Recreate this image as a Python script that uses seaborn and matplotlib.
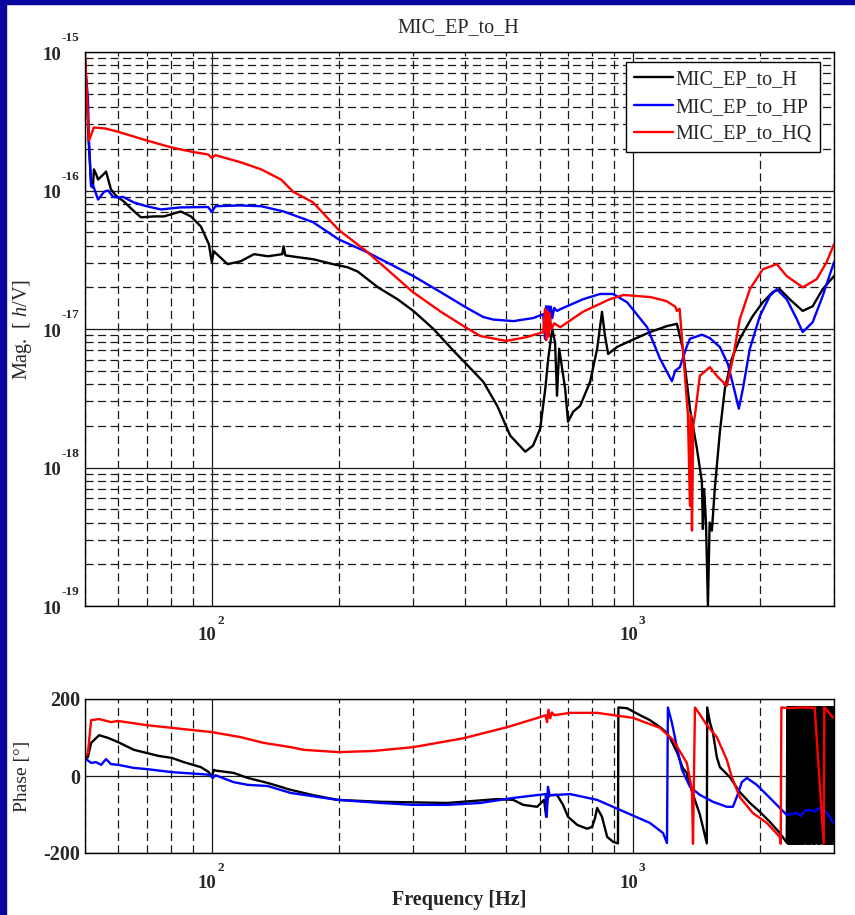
import matplotlib
matplotlib.use("Agg")

import matplotlib.pyplot as plt
import seaborn as sns
from matplotlib.patches import Rectangle
from matplotlib.ticker import LogLocator, NullFormatter

# ---- magnitude data [h/V] vs frequency [Hz] ----
h_mag_freq = [50, 50.5, 51, 51.7, 52.2, 52.5, 53.2, 53.7, 55.2, 56.1,
              57.6, 59.2, 61.9, 65.3, 67.9, 72.9, 77, 84.4, 89.2, 94.2,
              98.4, 100, 101.1, 109, 117, 126, 136, 147, 148, 149.5,
              160, 174, 194, 210, 222, 248, 276, 301, 336, 375,
              404, 441, 476, 511, 555, 579, 602, 619, 629, 643,
              653, 660, 668, 690, 701, 721, 749, 791, 822, 844,
              858, 873, 917, 984, 1097, 1204, 1271, 1313, 1365, 1418,
              1457, 1465, 1475, 1490, 1506, 1520, 1539, 1564, 1608, 1652,
              1716, 1793, 1924, 2033, 2147, 2230, 2355, 2528, 2670, 2820,
              3000]
h_mag = [9e-16, 5e-16, 2.3e-16, 1.1e-16, 1.05e-16, 1.42e-16, 1.3e-16, 1.2e-16, 1.3e-16, 1.37e-16,
         1.02e-16, 9.2e-17, 8.3e-17, 7.1e-17, 6.4e-17, 6.5e-17, 6.5e-17, 7.06e-17, 6.5e-17, 5.5e-17,
         4.1e-17, 3.04e-17, 3.64e-17, 2.94e-17, 3.08e-17, 3.47e-17, 3.35e-17, 3.47e-17, 3.95e-17, 3.4e-17,
         3.3e-17, 3.19e-17, 2.94e-17, 2.79e-17, 2.6e-17, 2.0e-17, 1.64e-17, 1.35e-17, 1.0e-17, 6.95e-18,
         5.5e-18, 4.16e-18, 2.79e-18, 1.7e-18, 1.3e-18, 1.44e-18, 1.91e-18, 3.7e-18, 6.1e-18, 1.0e-17,
         8.0e-18, 3.3e-18, 7.2e-18, 3.7e-18, 2.14e-18, 2.53e-18, 2.79e-18, 4.16e-18, 7.2e-18, 1.33e-17,
         8.9e-18, 6.6e-18, 7.43e-18, 8.2e-18, 9.5e-18, 1.05e-17, 1.09e-17, 7.2e-18, 2.66e-18, 1.37e-18,
         7.9e-19, 3.6e-19, 7e-19, 4e-19, 1.0e-19, 4e-19, 3.5e-19, 7.1e-19, 1.82e-18, 3.7e-18,
         6.1e-18, 8.5e-18, 1.24e-17, 1.56e-17, 1.85e-17, 1.94e-17, 1.64e-17, 1.35e-17, 1.46e-17, 1.94e-17,
         2.41e-17]

hp_mag_freq = [50, 50.8, 51.1, 51.7, 52.2, 53.7, 55.5, 56.7, 58.3, 60,
               61.5, 65.3, 70, 75.7, 84.4, 98, 100, 102, 117, 131,
               148, 174, 200, 234, 301, 349, 400, 441, 466, 520,
               580, 612, 618, 622, 626, 630, 634, 638, 643, 650,
               660, 672, 761, 835, 897, 968, 1080, 1159, 1237, 1260,
               1292, 1342, 1365, 1457, 1522, 1608, 1679, 1745, 1783, 1823,
               1894, 2000, 2112, 2194, 2317, 2447, 2528, 2670, 2820, 3000]
hp_mag = [8e-16, 4.7e-16, 2.3e-16, 1.07e-16, 1.1e-16, 8.6e-17, 9.8e-17, 1.0e-16, 9.0e-17, 8.9e-17,
          9.0e-17, 8.2e-17, 7.7e-17, 7.3e-17, 7.55e-17, 7.6e-17, 7.0e-17, 7.7e-17, 7.8e-17, 7.7e-17,
          7.06e-17, 5.9e-17, 4.44e-17, 3.58e-17, 2.41e-17, 1.85e-17, 1.44e-17, 1.22e-17, 1.17e-17, 1.14e-17,
          1.2e-17, 1.28e-17, 8.5e-18, 1.46e-17, 1.0e-17, 1.46e-17, 1.1e-17, 1.45e-17, 1.2e-17, 1.42e-17,
          1.35e-17, 1.39e-17, 1.64e-17, 1.79e-17, 1.79e-17, 1.56e-17, 1.03e-17, 6.1e-18, 4.2e-18, 5.0e-18,
          5.3e-18, 7.5e-18, 8.5e-18, 9.1e-18, 8.6e-18, 7.4e-18, 5.6e-18, 3.5e-18, 2.66e-18, 3.7e-18,
          7.2e-18, 1.24e-17, 1.73e-17, 1.94e-17, 1.64e-17, 1.18e-17, 9.5e-18, 1.12e-17, 1.73e-17, 3.04e-17]

hq_mag_freq = [50, 51.1, 52.5, 56, 60, 70, 80, 90, 98, 100,
               102, 117, 131, 146, 156, 174, 200, 234, 300, 350,
               400, 434, 500, 560, 612, 618, 622, 626, 630, 634,
               640, 650, 672, 760, 880, 950, 1100, 1200, 1260, 1271,
               1290, 1313, 1350, 1365, 1372, 1380, 1390, 1403, 1441, 1522,
               1590, 1670, 1726, 1793, 1894, 2033, 2194, 2317, 2528, 2729,
               2882, 3000]
hq_mag = [1.0e-15, 2.3e-16, 2.85e-16, 2.8e-16, 2.65e-16, 2.3e-16, 2.05e-16, 1.9e-16, 1.82e-16, 1.72e-16,
          1.8e-16, 1.6e-16, 1.42e-16, 1.2e-16, 9.8e-17, 8.2e-17, 5.2e-17, 3.6e-17, 1.85e-17, 1.33e-17,
          1.03e-17, 8.9e-18, 8.2e-18, 8.75e-18, 9.5e-18, 1.4e-17, 8.3e-18, 1.35e-17, 8.8e-18, 1.3e-17,
          1.0e-17, 1.1e-17, 1.03e-17, 1.33e-17, 1.64e-17, 1.76e-17, 1.7e-17, 1.59e-17, 1.45e-17, 1.35e-17,
          1.40e-17, 7.2e-18, 2.4e-18, 5.3e-19, 2.4e-18, 3.5e-19, 2.0e-18, 2.4e-18, 4.6e-18, 5.3e-18,
          4.5e-18, 3.9e-18, 6.1e-18, 1.18e-17, 1.94e-17, 2.7e-17, 2.94e-17, 2.41e-17, 2.0e-17, 2.29e-17,
          3.04e-17, 4.1e-17]

# ---- phase data [deg] vs frequency [Hz] ----
h_ph_freq = [50, 50.8, 51.7, 54, 56.7, 59.9, 65.3, 70, 74.9, 80.4,
             85.8, 94.2, 98.4, 100, 101.1, 102.2, 112.7, 121.7, 135.7, 145.7,
             151.4, 174.4, 198.9, 251.5, 362.4, 476, 519.5, 548.7, 592, 615,
             622, 626, 632, 660, 682, 701, 737, 778, 800, 812,
             822, 844, 868, 897, 921, 923, 968, 1039, 1097, 1159,
             1204, 1224, 1271, 1313, 1342, 1380, 1441, 1497, 1500, 1522,
             1548, 1581, 1608, 1698, 1793, 1894, 2000, 2112, 2230, 2317]
h_ph = [45, 49, 86, 106, 99, 88, 68, 60, 52, 47,
        36, 23, 10, -3, 16, 14, 8, -5, -18, -28,
        -34, -50, -62, -67, -70, -60, -62, -75, -80, -62,
        -106, -62, -50, -49, -75, -106, -127, -137, -132, -110,
        -83, -106, -158, -171, -175, 178, 176, 158, 145, 127,
        112, 99, 62, 20, 8, -40, -100, -175, 178, 140,
        112, 49, 23, -3, -42, -70, -93, -119, -148, -173]

# black trace flipping between +180 and -180 above ~2.3 kHz
h_wrap_freq = [2325, 2333, 2341, 2349, 2357, 2365, 2373, 2381,
               2390, 2399, 2408, 2417, 2426, 2435, 2444, 2453,
               2462, 2471, 2480, 2490, 2500, 2510, 2520, 2530,
               2540, 2550, 2560, 2578, 2588, 2598, 2608, 2618,
               2628, 2638, 2648, 2666, 2677, 2688, 2699, 2710,
               2730, 2741, 2752, 2763, 2774, 2785, 2796, 2816,
               2827, 2838, 2849, 2860, 2872, 2884, 2896, 2908,
               2920, 2932, 2944, 2956, 2968, 2980, 2990, 3000]
h_wrap_ph = [179, -176, 179, -176, 179, -176, 179, -176,
             179, -176, 179, -176, 179, -176, 179, -176,
             179, -176, 179, -176, 179, -176, 179, -176,
             179, -176, 179, -176, 179, -176, 179, -176,
             179, -176, 179, -176, 179, -176, 179, -176,
             179, -176, 179, -176, 179, -176, 179, -176,
             179, -176, 179, -176, 179, -176, 179, -176,
             179, -176, 179, -176, 179, -176, 179, -176]

hp_ph_freq = [50, 51.7, 53.1, 54.6, 56.1, 57.6, 59.9, 65.3, 70, 80.4,
              94.2, 99, 100.5, 102, 112.7, 121.7, 135.7, 153.9, 198.9, 251.5,
              301, 362.4, 433.9, 519.5, 620, 624, 628, 634, 709, 821.7,
              967.8, 1097, 1178, 1204, 1210, 1237, 1271, 1307, 1365, 1441,
              1548, 1670, 1726, 1764, 1813, 1863, 1967, 2078, 2194, 2317,
              2447, 2500, 2560, 2627, 2700, 2774, 2880, 2978, 3000]
hp_ph = [46, 34, 36, 29, 44, 31, 29, 21, 18, 10,
         5, 3, -5, 2, -16, -23, -26, -44, -62, -70,
         -75, -75, -70, -57, -47, -106, -28, -50, -47, -62,
         -96, -122, -148, -174, 178, 138, 75, 16, -28, -49,
         -67, -80, -80, -54, -16, -5, -23, -49, -75, -101,
         -96, -104, -90, -88, -92, -83, -95, -119, -122]

hq_ph_freq = [50, 50.8, 51.7, 54, 57.6, 59.9, 70, 80.4, 100, 117,
              132.8, 153.9, 165.2, 200, 242, 301, 395.6, 503, 602, 620,
              625, 630, 636, 642, 650, 709, 822, 1000, 1159, 1244,
              1342, 1380, 1388, 1403, 1441, 1497, 1581, 1670, 1716, 1793,
              1924, 2078, 2230, 2242, 2250, 2355, 2500, 2700, 2835, 2845,
              2860, 2978, 3000]
hq_ph = [49, 60, 145, 148, 140, 143, 132, 125, 114, 101,
         86, 75, 68, 62, 65, 75, 98, 127, 153, 158,
         140, 172, 150, 165, 158, 164, 164, 151, 125, 94,
         34, -36, -176, 178, 160, 132, 101, 42, -3, -55,
         -96, -122, -158, -176, 178, 176, 178, 177, -176, 178,
         176, 153, 150]

series_names = ["MIC_EP_to_H", "MIC_EP_to_HP", "MIC_EP_to_HQ"]
series_colors = ["#000000", "#0000ff", "#ff0000"]

sns.set_theme(style="white")
plt.rcParams["font.family"] = ["Liberation Serif", "DejaVu Serif"]
plt.rcParams["mathtext.fontset"] = "custom"
plt.rcParams["mathtext.rm"] = "Liberation Serif"
plt.rcParams["mathtext.it"] = "Liberation Serif:italic"
plt.rcParams["mathtext.bf"] = "Liberation Serif:bold"

W, H = 855, 915
fig = plt.figure(figsize=(W / 100, H / 100), dpi=100)
fig.patch.set_facecolor("white")
# navy frame strips on left and top
fig.add_artist(Rectangle((0, 0), 6 / W, 1, transform=fig.transFigure,
                         color="#0808a0", zorder=-5))
fig.add_artist(Rectangle((0, 1 - 4 / H), 1, 4 / H, transform=fig.transFigure,
                         color="#0808a0", zorder=-5))

ax_mag = fig.add_axes([85 / W, 1 - 606 / H, 749 / W, 554 / H])
ax_ph = fig.add_axes([85 / W, 1 - 853 / H, 749 / W, 154 / H])

dash = (0, (6.5, 3.5))
grid_col = "#1a1a1a"
lw = 1.7


def style_freq_axis(ax):
    ax.set_xscale("log")
    ax.set_xlim(50, 3000)
    ax.xaxis.set_major_locator(LogLocator(base=10, numticks=10))
    ax.xaxis.set_minor_locator(LogLocator(base=10, subs=(2, 3, 4, 5, 6, 7, 8, 9), numticks=100))
    ax.xaxis.set_major_formatter(NullFormatter())
    ax.xaxis.set_minor_formatter(NullFormatter())
    ax.tick_params(which="both", length=0)
    ax.grid(which="major", axis="x", color=grid_col, lw=0.9, ls="-")
    ax.grid(which="minor", axis="x", color=grid_col, lw=0.9, ls=dash)
    ax.set_axisbelow(True)
    ax.set_facecolor("white")
    for sp in ax.spines.values():
        sp.set_color("black")
        sp.set_linewidth(1.0)
    ax.set_xlabel("")
    ax.set_ylabel("")


def power_label(ax, axis, exp):
    if axis == "x":
        xy, coords = (10.0 ** exp, 0), ("data", "axes fraction")
        off_base, off_exp = (-3.2, -21.6), (6.3, -10.8)
    else:
        xy, coords = (0, 10.0 ** exp), ("axes fraction", "data")
        off_base, off_exp = (-24.0, -2.2), (-10.4, 10.0)
    ax.annotate("10", xy=xy, xycoords=coords, xytext=off_base, textcoords="offset points",
                ha="center", va="center", fontsize=13.5, fontweight="bold", annotation_clip=False)
    ax.annotate(str(exp), xy=xy, xycoords=coords, xytext=off_exp, textcoords="offset points",
                ha="center", va="center", fontsize=9.5, fontweight="bold", annotation_clip=False)


# ---- magnitude panel ----
ax_mag.set_xscale("log")
ax_mag.set_yscale("log")
for fx, fy, name, col in zip([h_mag_freq, hp_mag_freq, hq_mag_freq],
                             [h_mag, hp_mag, hq_mag], series_names, series_colors):
    sns.lineplot(x=fx, y=fy, ax=ax_mag, color=col, linewidth=lw,
                 estimator=None, sort=False, label=name)

style_freq_axis(ax_mag)
ax_mag.set_ylim(1e-19, 1e-15)
ax_mag.yaxis.set_major_locator(LogLocator(base=10, numticks=10))
ax_mag.yaxis.set_minor_locator(LogLocator(base=10, subs=(2, 3, 4, 5, 6, 7, 8, 9), numticks=100))
ax_mag.yaxis.set_major_formatter(NullFormatter())
ax_mag.yaxis.set_minor_formatter(NullFormatter())
ax_mag.grid(which="major", axis="y", color=grid_col, lw=0.9, ls="-")
ax_mag.grid(which="minor", axis="y", color=grid_col, lw=0.9, ls=dash)

for e in [-15, -16, -17, -18, -19]:
    power_label(ax_mag, "y", e)
for e in [2, 3]:
    power_label(ax_mag, "x", e)

leg = ax_mag.legend(loc="upper right", bbox_to_anchor=(1 - 14 / 749, 1 - 10 / 554),
                    frameon=True, fancybox=False, edgecolor="black", framealpha=1,
                    fontsize=14.5, handlelength=1.9, handletextpad=0.15,
                    borderpad=0.4, labelspacing=0.42, borderaxespad=0)
leg.get_frame().set_linewidth(1.0)

# ---- phase panel ----
ax_ph.set_xscale("log")
for fx, fy, col in zip([h_ph_freq + h_wrap_freq, hp_ph_freq, hq_ph_freq],
                       [h_ph + h_wrap_ph, hp_ph, hq_ph], series_colors):
    sns.lineplot(x=fx, y=fy, ax=ax_ph, color=col, linewidth=lw,
                 estimator=None, sort=False, legend=False)

style_freq_axis(ax_ph)
ax_ph.set_ylim(-200, 200)
ax_ph.set_yticks([-200, 0, 200])
ax_ph.set_yticklabels(["-200", "0", "200"], fontsize=14.5, fontweight="bold")
ax_ph.tick_params(axis="y", pad=3.6)
ax_ph.grid(which="major", axis="y", color=grid_col, lw=0.9, ls="-")
for e in [2, 3]:
    power_label(ax_ph, "x", e)

# ---- texts ----
fig.text(458 / W, 1 - 28 / H, "MIC_EP_to_H", ha="center", va="center", fontsize=14.5)
fig.text(22 / W, 1 - 329 / H, r"Mag.  [ $\mathit{h}$/V]", rotation=90,
         ha="center", va="center", fontsize=14.5)
fig.text(22 / W, 1 - 776 / H, "Phase [°]", rotation=90,
         ha="center", va="center", fontsize=14)
fig.text(459 / W, 1 - 900 / H, "Frequency [Hz]", ha="center", va="center",
         fontsize=14.5, fontweight="bold")

fig.savefig("out.png", dpi=100, facecolor=fig.get_facecolor())
